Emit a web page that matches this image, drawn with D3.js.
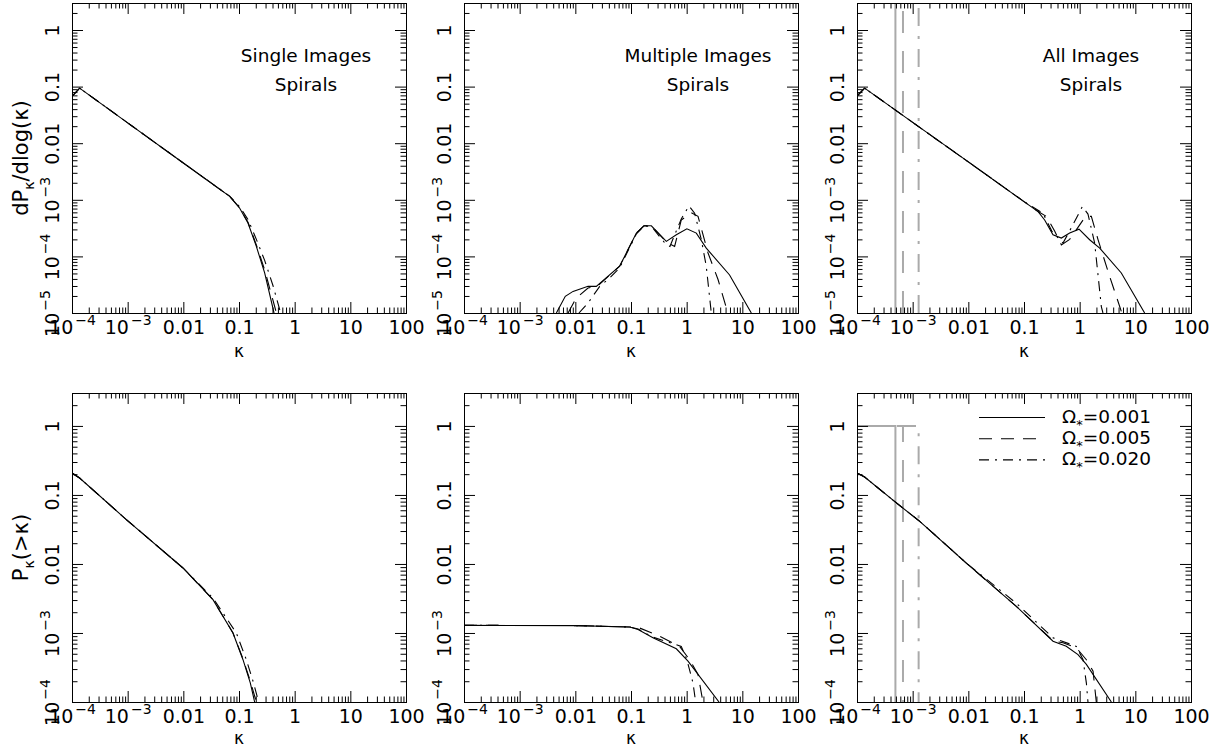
<!DOCTYPE html>
<html>
<head>
<meta charset="utf-8">
<script src="https://cdn.jsdelivr.net/npm/d3@7"></script>
<style>
  body { margin: 0; background: #fff; }
  text { font-family: "DejaVu Sans", sans-serif; font-size: 18.5px; fill: #000; }
  .tick text { font-size: 19px; }
</style>
</head>
<body>
<div id="chart"></div>
<script>
// axis ticks and labels
var xDomain = [1e-4, 100];
var xTickValues = [1e-4, 1e-3, 0.01, 0.1, 1, 10, 100];
var xTickLabels = ["10^-4", "10^-3", "0.01", "0.1", "1", "10", "100"];
var yDomainTop = [1e-5, 3];
var yTickValuesTop = [1e-5, 1e-4, 1e-3, 0.01, 0.1, 1];
var yTickLabelsTop = ["10^-5", "10^-4", "10^-3", "0.01", "0.1", "1"];
var yDomainBottom = [1e-4, 3];
var yTickValuesBottom = [1e-4, 1e-3, 0.01, 0.1, 1];
var yTickLabelsBottom = ["10^-4", "10^-3", "0.01", "0.1", "1"];

var panelTitles = ["Single Images", "Multiple Images", "All Images"];
var sampleName = "Spirals";
var legendLabels = ["0.001", "0.005", "0.020"];
// lower cutoff in kappa for each Omega (grey lines)
var kappaMin = [4.9e-4, 6.7e-4, 1.28e-3];

// dP/dlog(kappa), single images
var singleDiff001 = [[1e-4, 0.067], [1.37e-4, 0.094], [1e-3, 0.0229], [0.01, 0.00446], [0.068, 1.15e-3],
  [0.103, 7.1e-4], [0.145, 3.9e-4], [0.205, 1.5e-4], [0.289, 5.1e-5], [0.426, 1.0e-5]];
var singleDiff005 = [[1e-4, 0.067], [1.37e-4, 0.094], [1e-3, 0.0229], [0.01, 0.00446], [0.068, 1.15e-3],
  [0.103, 7.2e-4], [0.145, 4.0e-4], [0.205, 1.6e-4], [0.289, 5.8e-5], [0.47, 1.0e-5]];
var singleDiff020 = [[1e-4, 0.067], [1.37e-4, 0.094], [1e-3, 0.0229], [0.01, 0.00446], [0.068, 1.16e-3],
  [0.103, 7.5e-4], [0.145, 4.5e-4], [0.205, 2.0e-4], [0.289, 8.5e-5], [0.41, 3.0e-5], [0.56, 1.0e-5]];

// dP/dlog(kappa), multiple images
var multiDiff001 = [[4.56e-3, 1.0e-5], [6.6e-3, 1.97e-5], [9.1e-3, 2.41e-5], [0.0169, 2.96e-5], [0.0238, 2.96e-5],
  [0.0625, 6.7e-5], [0.125, 2.58e-4], [0.171, 3.48e-4], [0.232, 3.48e-4], [0.431, 1.84e-4], [0.652, 2.41e-4],
  [1.01, 3.08e-4], [1.49, 2.58e-4], [2.25, 1.40e-4], [5.9, 4.7e-5], [14.5, 1.0e-5]];
var multiDiff005 = [[7.4e-3, 1.0e-5], [0.0104, 1.84e-5], [0.0169, 2.76e-5], [0.0255, 3.03e-5], [0.0625, 6.7e-5],
  [0.125, 2.58e-4], [0.171, 3.48e-4], [0.232, 3.45e-4], [0.431, 1.8e-4], [0.608, 1.5e-4], [0.80, 4.4e-4],
  [1.21, 5.9e-4], [1.60, 5.1e-4], [2.42, 1.15e-4], [3.66, 3.9e-5], [5.5, 1.0e-5]];
var multiDiff020 = [[0.0116, 1.0e-5], [0.0169, 1.5e-5], [0.0274, 2.96e-5], [0.0414, 4.15e-5], [0.0625, 6.3e-5],
  [0.125, 2.5e-4], [0.171, 3.43e-4], [0.232, 3.4e-4], [0.431, 1.6e-4], [0.5, 1.5e-4], [0.80, 4.6e-4],
  [1.10, 7.8e-4], [1.39, 5.8e-4], [1.83, 2.0e-4], [2.25, 6.7e-5], [2.77, 1.0e-5]];

// dP/dlog(kappa), all images
var allDiff001 = [[1e-4, 0.068], [1.37e-4, 0.094], [1e-3, 0.0233], [0.01, 4.67e-3], [0.1, 9.3e-4],
  [0.179, 6.2e-4], [0.235, 4.4e-4], [0.332, 2.41e-4], [0.469, 2.11e-4], [0.661, 2.58e-4], [0.973, 3.03e-4],
  [1.51, 1.97e-4], [2.29, 1.40e-4], [5.6, 5.1e-5], [14.7, 1.0e-5]];
var allDiff005 = [[1e-4, 0.068], [1.37e-4, 0.094], [1e-3, 0.0233], [0.01, 4.67e-3], [0.1, 9.3e-4],
  [0.179, 6.2e-4], [0.252, 5.1e-4], [0.355, 2.8e-4], [0.469, 1.6e-4], [0.661, 2.0e-4], [1.28, 5.1e-4],
  [1.62, 5.1e-4], [2.13, 2.0e-4], [3.46, 4.4e-5], [5.6, 1.07e-5]];
var allDiff020 = [[1e-4, 0.068], [1.37e-4, 0.094], [1e-3, 0.0233], [0.01, 4.67e-3], [0.1, 9.3e-4],
  [0.219, 5.8e-4], [0.316, 2.8e-4], [0.502, 1.72e-4], [0.708, 3.2e-4], [1.12, 7.6e-4], [1.41, 5.6e-4],
  [1.86, 1.72e-4], [2.45, 1.3e-5], [2.62, 1.0e-5]];

// P(>kappa), single images
var singleCum001 = [[1e-4, 0.208], [1.37e-4, 0.176], [9.46e-4, 0.044], [9.86e-3, 8.75e-3], [0.0341, 3.04e-3],
  [0.078, 1.0e-3], [0.118, 4.1e-4], [0.16, 1.88e-4], [0.191, 1.0e-4]];
var singleCum005 = [[1e-4, 0.208], [1.37e-4, 0.176], [9.46e-4, 0.044], [9.86e-3, 8.75e-3], [0.0341, 3.04e-3],
  [0.078, 1.0e-3], [0.118, 4.2e-4], [0.16, 2.0e-4], [0.205, 1.0e-4]];
var singleCum020 = [[1e-4, 0.208], [1.37e-4, 0.176], [9.46e-4, 0.044], [9.86e-3, 8.75e-3], [0.0341, 3.2e-3],
  [0.0895, 1.0e-3], [0.1355, 4.1e-4], [0.183, 1.88e-4], [0.225, 1.0e-4]];

// P(>kappa), multiple images
var multiCum001 = [[1e-4, 1.29e-3], [0.0104, 1.28e-3], [0.0946, 1.22e-3], [0.134, 1.12e-3], [0.248, 8.5e-4],
  [0.652, 5.9e-4], [1.057, 3.9e-4], [3.81, 1.0e-4]];
var multiCum005 = [[1e-4, 1.29e-3], [0.0104, 1.28e-3], [0.0946, 1.22e-3], [0.143, 1.18e-3], [0.327, 8.95e-4],
  [0.748, 6.4e-4], [1.13, 4.1e-4], [1.6, 2.5e-4], [1.96, 1.0e-4]];
var multiCum020 = [[1e-4, 1.29e-3], [0.0104, 1.28e-3], [0.0946, 1.22e-3], [0.134, 1.14e-3], [0.248, 8.7e-4],
  [0.80, 6.4e-4], [1.01, 4.1e-4], [1.30, 1.88e-4], [1.45, 1.0e-4]];

// P(>kappa), all images
var allCum001 = [[1e-4, 0.208], [1.37e-4, 0.182], [5.1e-4, 0.0766], [1.34e-3, 0.0415], [9.2e-3, 0.0103],
  [0.0728, 2.43e-3], [0.332, 7.6e-4], [0.575, 6.4e-4], [0.933, 4.85e-4], [1.32, 3.5e-4], [3.71, 1.0e-4]];
var allCum005 = [[1e-4, 0.208], [1.37e-4, 0.182], [5.1e-4, 0.0766], [1.34e-3, 0.0415], [9.2e-3, 0.0103],
  [0.0728, 2.43e-3], [0.332, 7.7e-4], [0.502, 7.2e-4], [0.871, 6.1e-4], [1.32, 4.1e-4], [1.74, 2.8e-4], [1.99, 1.0e-4]];
var allCum020 = [[1e-4, 0.208], [1.37e-4, 0.182], [5.1e-4, 0.0766], [1.34e-3, 0.0415], [9.2e-3, 0.0103],
  [0.0728, 2.7e-3], [0.332, 8.5e-4], [0.871, 6.4e-4], [1.15, 4.1e-4], [1.32, 1.88e-4], [1.41, 1.0e-4]];

// line styles for the three Omega values
var dashBlack = [null, "13,9", "10,6,2,6"];
var dashGrey = [null, "22,18", "18,10,3,10"];

var svg = d3.select("#chart").append("svg")
  .attr("width", 1223)
  .attr("height", 755);

var cols = [72, 464, 857], panelW = 334;
var rows = [
  {top: 3, h: 310, yDomain: yDomainTop, yTicks: yTickValuesTop, yLabels: yTickLabelsTop,
   series: [[singleDiff001, singleDiff005, singleDiff020], [multiDiff001, multiDiff005, multiDiff020], [allDiff001, allDiff005, allDiff020]]},
  {top: 393, h: 309, yDomain: yDomainBottom, yTicks: yTickValuesBottom, yLabels: yTickLabelsBottom,
   series: [[singleCum001, singleCum005, singleCum020], [multiCum001, multiCum005, multiCum020], [allCum001, allCum005, allCum020]]}
];

function isDecade(d) {
  var l = Math.log10(d);
  return Math.abs(l - Math.round(l)) < 1e-9;
}

// write "10^-4" as 10 with a raised exponent
function setLabel(sel, label) {
  var parts = label.split("^");
  sel.text(null);
  sel.append("tspan").text(parts[0]);
  if (parts[1]) {
    sel.append("tspan")
      .attr("dx", 2).attr("dy", -9)
      .style("font-size", "14px")
      .text(parts[1].replace("-", "\u2212"));
  }
}

function noDomain(g) { g.select(".domain").remove(); }

rows.forEach(function(row, r) {
  cols.forEach(function(left, c) {
    var x = d3.scaleLog().domain(xDomain).range([left, left + panelW]);
    var y = d3.scaleLog().domain(row.yDomain).range([row.top + row.h, row.top]);
    var bottom = row.top + row.h;
    var g = svg.append("g");
    var clipId = "clip" + r + c;

    svg.append("clipPath").attr("id", clipId)
      .append("rect")
        .attr("x", left).attr("y", row.top)
        .attr("width", panelW).attr("height", row.h);

    var plot = g.append("g").attr("clip-path", "url(#" + clipId + ")");

    // grey kappa_min markers in the "All Images" column
    if (c == 2) {
      kappaMin.forEach(function(k, i) {
        var pts = r == 0
          ? [[k, row.yDomain[0]], [k, row.yDomain[1]]]
          : [[xDomain[0], 1], [k, 1], [k, row.yDomain[0]]];
        plot.append("path")
          .attr("d", d3.line().x(function(d) { return x(d[0]); }).y(function(d) { return y(d[1]); })(pts))
          .attr("fill", "none")
          .attr("stroke", "#aaaaaa")
          .attr("stroke-width", 2)
          .attr("stroke-dasharray", dashGrey[i]);
      });
    }

    var line = d3.line()
      .x(function(d) { return x(d[0]); })
      .y(function(d) { return y(d[1]); });

    row.series[c].forEach(function(s, i) {
      plot.append("path")
        .attr("d", line(s))
        .attr("fill", "none")
        .attr("stroke", "#000")
        .attr("stroke-width", 1.1)
        .attr("stroke-dasharray", dashBlack[i]);
    });

    // frame
    g.append("rect")
      .attr("x", left + 0.5).attr("y", row.top + 0.5)
      .attr("width", panelW).attr("height", row.h)
      .attr("fill", "none").attr("stroke", "#000").attr("stroke-width", 1);

    var xMinor = x.ticks().filter(function(d) { return !isDecade(d); });
    var yMinor = y.ticks().filter(function(d) { return !isDecade(d); });

    // bottom axis with labels
    var bx = g.append("g")
      .attr("transform", "translate(0," + bottom + ")")
      .call(d3.axisBottom(x).tickValues(xTickValues).tickSizeInner(-11).tickSizeOuter(0).tickPadding(0))
      .call(noDomain);
    bx.selectAll(".tick text")
      .attr("y", 21).attr("dy", null)
      .each(function(d, i) { setLabel(d3.select(this), xTickLabels[i]); });
    g.append("g").attr("transform", "translate(0," + bottom + ")")
      .call(d3.axisBottom(x).tickValues(xMinor).tickSizeInner(-5.5).tickSizeOuter(0).tickFormat(""))
      .call(noDomain);

    // top axis
    g.append("g").attr("transform", "translate(0," + row.top + ")")
      .call(d3.axisTop(x).tickValues(xTickValues).tickSizeInner(-11).tickSizeOuter(0).tickFormat(""))
      .call(noDomain);
    g.append("g").attr("transform", "translate(0," + row.top + ")")
      .call(d3.axisTop(x).tickValues(xMinor).tickSizeInner(-5.5).tickSizeOuter(0).tickFormat(""))
      .call(noDomain);

    // left axis with rotated labels
    var ly = g.append("g")
      .attr("transform", "translate(" + left + ",0)")
      .call(d3.axisLeft(y).tickValues(row.yTicks).tickSizeInner(-11).tickSizeOuter(0).tickPadding(0))
      .call(noDomain);
    ly.selectAll(".tick text")
      .attr("x", null).attr("dy", null)
      .attr("text-anchor", "middle")
      .attr("transform", "translate(-13,0) rotate(-90)")
      .each(function(d, i) { setLabel(d3.select(this), row.yLabels[i]); });
    g.append("g").attr("transform", "translate(" + left + ",0)")
      .call(d3.axisLeft(y).tickValues(yMinor).tickSizeInner(-5.5).tickSizeOuter(0).tickFormat(""))
      .call(noDomain);

    // right axis
    g.append("g").attr("transform", "translate(" + (left + panelW) + ",0)")
      .call(d3.axisRight(y).tickValues(row.yTicks).tickSizeInner(-11).tickSizeOuter(0).tickFormat(""))
      .call(noDomain);
    g.append("g").attr("transform", "translate(" + (left + panelW) + ",0)")
      .call(d3.axisRight(y).tickValues(yMinor).tickSizeInner(-5.5).tickSizeOuter(0).tickFormat(""))
      .call(noDomain);

    g.selectAll(".tick line").attr("stroke", "#000");

    // x title
    g.append("text")
      .attr("x", left + panelW / 2)
      .attr("y", r == 0 ? bottom + 44 : bottom + 42)
      .attr("text-anchor", "middle")
      .style("font-size", "17px")
      .text("\u03ba");

    // panel title
    if (r == 0) {
      g.append("text").attr("x", left + 234).attr("y", row.top + 58.5)
        .attr("text-anchor", "middle").text(panelTitles[c]);
      g.append("text").attr("x", left + 234).attr("y", row.top + 87.5)
        .attr("text-anchor", "middle").text(sampleName);
    }

    // y title on first column
    if (c == 0) {
      var t = g.append("text")
        .attr("text-anchor", "middle")
        .style("font-size", "21px")
        .attr("transform", "translate(28," + (row.top + row.h / 2) + ") rotate(-90)");
      if (r == 0) {
        t.append("tspan").text("dP");
        t.append("tspan").attr("dy", 6).style("font-size", "14px").text("\u03ba");
        t.append("tspan").attr("dy", -6).text("/dlog(\u03ba)");
      } else {
        t.append("tspan").text("P");
        t.append("tspan").attr("dy", 6).style("font-size", "14px").text("\u03ba");
        t.append("tspan").attr("dy", -6).text("(>\u03ba)");
      }
    }

    // legend in the lower right panel
    if (r == 1 && c == 2) {
      legendLabels.forEach(function(lab, i) {
        var ly0 = row.top + 24.5 + i * 21.2;
        g.append("line")
          .attr("x1", left + 122).attr("x2", left + 188)
          .attr("y1", ly0).attr("y2", ly0)
          .attr("stroke", "#000").attr("stroke-width", 1.1)
          .attr("stroke-dasharray", dashBlack[i]);
        var tx = g.append("text")
          .attr("x", left + 205).attr("y", ly0 + 5.5);
        tx.append("tspan").text("\u03a9");
        tx.append("tspan").attr("dy", 6).style("font-size", "13px").text("*");
        tx.append("tspan").attr("dy", -6).text("=" + lab);
      });
    }
  });
});
</script>
</body>
</html>
